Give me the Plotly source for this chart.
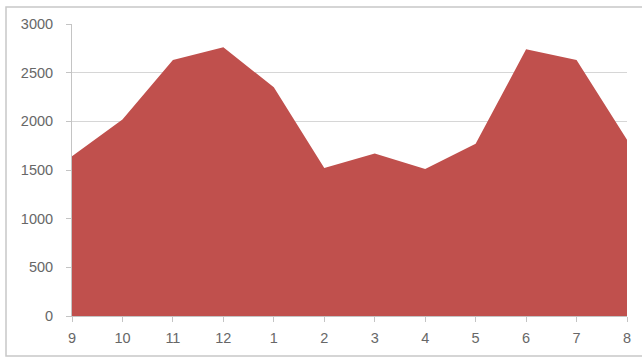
import plotly.graph_objects as go

# Month labels (September through August) and the monthly totals
months = ["9", "10", "11", "12", "1", "2", "3", "4", "5", "6", "7", "8"]
totals = [1640, 2020, 2630, 2760, 2350, 1520, 1670, 1510, 1770, 2740, 2630, 1810]
y_ticks = [0, 500, 1000, 1500, 2000, 2500, 3000]

W, H = 642, 358
L, R, T, B = 72, 15, 24, 42
pw, ph = W - L - R, H - T - B

fig = go.Figure()
fig.add_trace(go.Scatter(
    x=months, y=totals,
    mode="lines",
    fill="tozeroy",
    fillcolor="#C0504D",
    line=dict(width=0, color="#C0504D"),
    hoverinfo="x+y",
))

tick_font = dict(family="Liberation Sans, Arial, sans-serif", size=14.5, color="#676767")

fig.update_layout(
    width=W, height=H,
    margin=dict(l=L, r=R, t=T, b=B),
    paper_bgcolor="white",
    plot_bgcolor="white",
    showlegend=False,
    xaxis=dict(
        type="category",
        range=[0, len(months) - 1],
        showgrid=False,
        showline=True, linecolor="#c4c4c4", linewidth=1,
        ticks="outside", ticklen=5, tickcolor="#c4c4c4",
        tickfont=tick_font,
        ticklabelstandoff=4,
        fixedrange=True,
    ),
    yaxis=dict(
        range=[0, 3000],
        tickvals=y_ticks,
        showgrid=True, gridcolor="#d6d6d6", gridwidth=1.3,
        showline=True, linecolor="#c4c4c4", linewidth=1,
        ticks="outside", ticklen=5, tickcolor="#c4c4c4",
        tickfont=tick_font,
        ticklabelstandoff=10,
        zeroline=False,
        fixedrange=True,
    ),
    shapes=[dict(
        type="rect", xref="paper", yref="paper",
        x0=(6 - L) / pw, x1=(W + 4 - L) / pw,
        y0=(T + ph - 356) / ph, y1=(T + ph - 7) / ph,
        line=dict(color="#c8c8c8", width=1.5),
        fillcolor="rgba(0,0,0,0)",
        layer="below",
    )],
)

fig.write_html("out.html")
